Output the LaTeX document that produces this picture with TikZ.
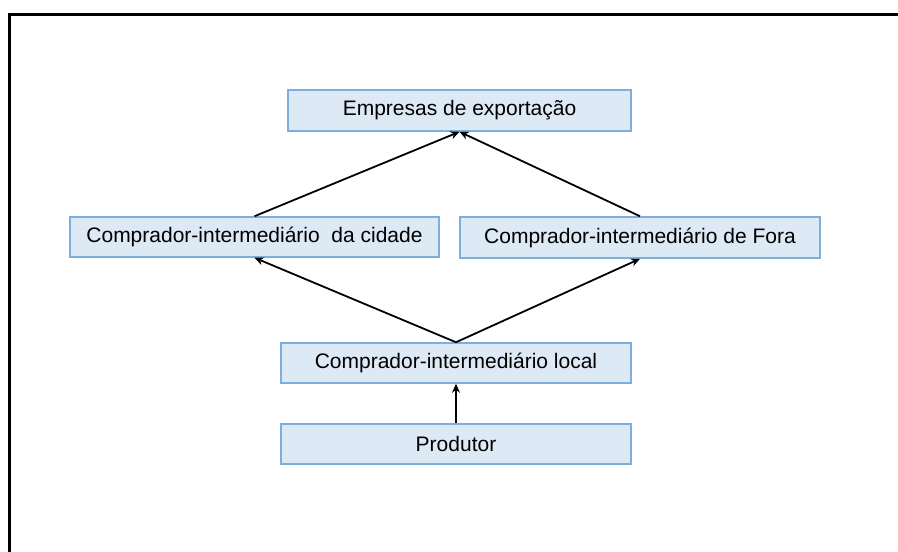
\documentclass[tikz,border=0pt]{standalone}
\usepackage{fontspec}
\setmainfont{Liberation Sans}
\usetikzlibrary{arrows.meta}
\definecolor{boxfill}{HTML}{DEE9F6}
\definecolor{boxline}{HTML}{7DAEDD}
\begin{document}
\begin{tikzpicture}[x=1pt,y=-1pt,
  box/.style={draw=boxline,fill=boxfill,line width=1.5pt,inner sep=0pt,
    font=\fontsize{21}{25}\selectfont},
  conn/.style={line width=1.8pt,-{Stealth[length=9pt,width=8pt]}}]
\useasboundingbox (0,0) rectangle (898,552);
\fill[white] (0,0) rectangle (898,552);
\draw[line width=3pt] (9.5,553) -- (9.5,14.5) -- (899,14.5);
\node[box,minimum width=343pt,minimum height=41pt] (emp) at (459.5,110.5) {Empresas de exportação};
\node[box,minimum width=369pt,minimum height=40pt] (cid) at (254.5,237) {Comprador-intermediário~ da cidade};
\node[box,minimum width=360pt,minimum height=41pt] (fora) at (640,237.5) {Comprador-intermediário de Fora};
\node[box,minimum width=350pt,minimum height=40pt] (loc) at (456,363) {Comprador-intermediário local};
\node[box,minimum width=350pt,minimum height=40pt] (prod) at (456,444) {Produtor};
\draw[conn] (cid.north) -- (emp.south);
\draw[conn] (fora.north) -- (emp.south);
\draw[conn] (loc.north) -- (cid.south);
\draw[conn] (loc.north) -- (fora.south);
\draw[conn] (prod.north) -- (loc.south);
\end{tikzpicture}
\end{document}
